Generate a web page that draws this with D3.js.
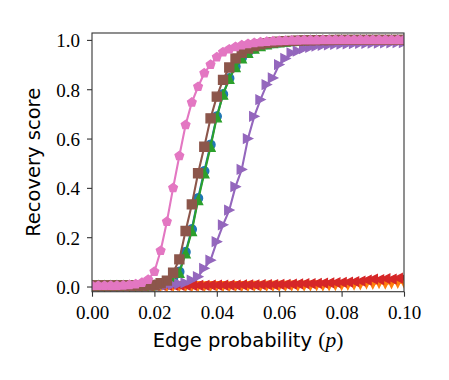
<!DOCTYPE html>
<html>
<head>
<meta charset="utf-8">
<script src="https://cdn.jsdelivr.net/npm/d3@7"></script>
<style>
body { margin: 0; background: #fff; }
</style>
</head>
<body>
<script>
// edge probabilities (x grid)
var pValues = [0, 0.002, 0.004, 0.006, 0.008, 0.010, 0.012, 0.014, 0.016, 0.018,
    0.020, 0.022, 0.024, 0.026, 0.028, 0.030, 0.032, 0.034, 0.036, 0.038,
    0.040, 0.042, 0.044, 0.046, 0.048, 0.050, 0.052, 0.054, 0.056, 0.058,
    0.060, 0.062, 0.064, 0.066, 0.068, 0.070, 0.072, 0.074, 0.076, 0.078,
    0.080, 0.082, 0.084, 0.086, 0.088, 0.090, 0.092, 0.094, 0.096, 0.098, 0.100];

// recovery scores, one array per series
var blueScores = [0.004, 0.004, 0.004, 0.004, 0.004, 0.004, 0.004, 0.004, 0.004, 0.004,
    0.005, 0.010, 0.019, 0.035, 0.060, 0.140, 0.232, 0.358, 0.468, 0.575,
    0.690, 0.780, 0.845, 0.892, 0.927, 0.950, 0.966, 0.976, 0.983, 0.987,
    0.990, 0.993, 0.995, 0.996, 0.997, 0.998, 0.998, 0.999, 0.999, 0.999,
    1.000, 1.000, 1.000, 1.000, 1.000, 1.000, 1.000, 1.000, 1.000, 1.000, 1.000];
var orangeScores = [0.000, 0.001, 0.000, 0.001, 0.000, 0.001, 0.000, 0.001, 0.000, 0.001,
    0.000, 0.001, 0.000, 0.001, 0.001, 0.000, 0.001, 0.001, 0.000, 0.001,
    0.001, 0.001, 0.000, 0.001, 0.001, 0.001, 0.002, 0.001, 0.002, 0.002,
    0.002, 0.002, 0.003, 0.002, 0.003, 0.003, 0.004, 0.003, 0.004, 0.005,
    0.005, 0.006, 0.007, 0.008, 0.012, 0.010, 0.014, 0.011, 0.013, 0.015, 0.016];
var greenScores = [0.004, 0.004, 0.004, 0.004, 0.004, 0.004, 0.004, 0.004, 0.004, 0.004,
    0.005, 0.010, 0.018, 0.033, 0.056, 0.135, 0.225, 0.351, 0.459, 0.567,
    0.686, 0.778, 0.842, 0.890, 0.925, 0.948, 0.965, 0.975, 0.982, 0.987,
    0.990, 0.993, 0.995, 0.996, 0.997, 0.998, 0.998, 0.999, 0.999, 0.999,
    1.000, 1.000, 1.000, 1.000, 1.000, 1.000, 1.000, 1.000, 1.000, 1.000, 1.000];
var redScores = [0.004, 0.004, 0.004, 0.004, 0.004, 0.004, 0.004, 0.004, 0.004, 0.004,
    0.004, 0.005, 0.005, 0.005, 0.005, 0.005, 0.005, 0.005, 0.005, 0.006,
    0.006, 0.006, 0.006, 0.006, 0.007, 0.007, 0.007, 0.008, 0.008, 0.008,
    0.009, 0.009, 0.010, 0.011, 0.012, 0.012, 0.013, 0.014, 0.015, 0.016,
    0.017, 0.018, 0.020, 0.022, 0.026, 0.030, 0.028, 0.032, 0.030, 0.034, 0.036];
var purpleScores = [0.003, 0.003, 0.003, 0.003, 0.003, 0.003, 0.003, 0.003, 0.003, 0.003,
    0.004, 0.005, 0.006, 0.008, 0.011, 0.015, 0.026, 0.040, 0.074, 0.107,
    0.182, 0.250, 0.310, 0.405, 0.475, 0.600, 0.690, 0.758, 0.819, 0.846,
    0.900, 0.925, 0.947, 0.955, 0.965, 0.970, 0.975, 0.978, 0.980, 0.982,
    0.983, 0.984, 0.985, 0.986, 0.986, 0.987, 0.987, 0.988, 0.988, 0.989, 0.989];
var brownScores = [0.004, 0.004, 0.004, 0.004, 0.004, 0.004, 0.004, 0.004, 0.004, 0.005,
    0.006, 0.013, 0.024, 0.056, 0.110, 0.225, 0.333, 0.459, 0.567, 0.682,
    0.770, 0.838, 0.888, 0.925, 0.948, 0.965, 0.975, 0.982, 0.987, 0.990,
    0.993, 0.995, 0.996, 0.997, 0.998, 0.998, 0.999, 0.999, 0.999, 1.000,
    1.000, 1.000, 1.000, 1.000, 1.000, 1.000, 1.000, 1.000, 1.000, 1.000, 1.000];
var pinkScores = [0.003, 0.003, 0.003, 0.004, 0.004, 0.005, 0.007, 0.010, 0.016, 0.028,
    0.060, 0.145, 0.263, 0.400, 0.530, 0.655, 0.747, 0.810, 0.865, 0.900,
    0.930, 0.950, 0.962, 0.972, 0.979, 0.984, 0.988, 0.991, 0.993, 0.995,
    0.996, 0.997, 0.998, 0.998, 0.999, 0.999, 0.999, 1.000, 1.000, 1.000,
    1.000, 1.000, 1.000, 1.000, 1.000, 1.000, 1.000, 1.000, 1.000, 1.000, 1.000];

var xTicks = [0, 0.02, 0.04, 0.06, 0.08, 0.10];
var yTicks = [0, 0.2, 0.4, 0.6, 0.8, 1.0];

// series in plotting order (later ones drawn on top)
var series = [
    {values: blueScores, color: "#1f77b4", marker: "circle"},
    {values: orangeScores, color: "#ff7f0e", marker: "triDown"},
    {values: greenScores, color: "#2ca02c", marker: "triUp"},
    {values: redScores, color: "#d62728", marker: "triLeft"},
    {values: purpleScores, color: "#9467bd", marker: "triRight"},
    {values: brownScores, color: "#8c564b", marker: "square"},
    {values: pinkScores, color: "#e377c2", marker: "pentagon"}
];

var width = 449, height = 380;
var margin = {top: 33, right: 45, bottom: 88.3, left: 92};
var plotW = width - margin.left - margin.right,
    plotH = height - margin.top - margin.bottom;

var x = d3.scaleLinear().domain([0, 0.1]).range([0, plotW]);
var y = d3.scaleLinear().domain([-0.021, 1.028]).range([plotH, 0]);

var ms = 9; // marker size, px

// marker shapes in the matplotlib style
function markerPath(kind) {
    var h = ms / 2;
    var p = d3.path();
    if (kind === "circle") {
        p.arc(0, 0, h, 0, 2 * Math.PI);
    } else if (kind === "square") {
        p.rect(-h, -h, ms, ms);
    } else if (kind === "pentagon") {
        for (var k = 0; k < 5; k++) {
            var a = -Math.PI / 2 + k * 2 * Math.PI / 5;
            if (k === 0) p.moveTo(h * Math.cos(a), h * Math.sin(a));
            else p.lineTo(h * Math.cos(a), h * Math.sin(a));
        }
    } else {
        // triangle pointing up, rotated for the other directions
        var pts = [[0, -h], [-h, h], [h, h]];
        var rot = {triUp: 0, triDown: 180, triLeft: -90, triRight: 90}[kind];
        var r = rot * Math.PI / 180;
        pts.forEach(function (pt, k) {
            var px = pt[0] * Math.cos(r) - pt[1] * Math.sin(r),
                py = pt[0] * Math.sin(r) + pt[1] * Math.cos(r);
            if (k === 0) p.moveTo(px, py); else p.lineTo(px, py);
        });
    }
    p.closePath();
    return p.toString();
}

var svg = d3.select("body")
    .append("svg")
    .attr("width", width)
    .attr("height", height);

svg.append("defs").append("clipPath")
    .attr("id", "plot-clip")
    .append("rect")
    .attr("width", plotW)
    .attr("height", plotH);

var g = svg.append("g")
    .attr("transform", "translate(" + margin.left + "," + margin.top + ")");

var marks = g.append("g").attr("clip-path", "url(#plot-clip)");

var line = d3.line()
    .x(function (d) { return x(d[0]); })
    .y(function (d) { return y(d[1]); });

series.forEach(function (s) {
    var pts = pValues.map(function (p, i) { return [p, s.values[i]]; });
    var sg = marks.append("g");
    sg.append("path")
        .datum(pts)
        .attr("fill", "none")
        .attr("stroke", s.color)
        .attr("stroke-width", 2.1)
        .attr("stroke-linejoin", "round")
        .attr("d", line);
    var shape = markerPath(s.marker);
    sg.selectAll(".m")
        .data(pts)
        .enter()
        .append("path")
        .attr("class", "m")
        .attr("d", shape)
        .attr("transform", function (d) { return "translate(" + x(d[0]) + "," + y(d[1]) + ")"; })
        .attr("fill", s.color)
        .attr("stroke", s.color)
        .attr("stroke-width", 1.4)
        .attr("stroke-linejoin", "miter");
});

// axes
var tickFont = "'Liberation Serif', 'DejaVu Serif', serif";
var xAxis = g.append("g")
    .attr("transform", "translate(0," + plotH + ")")
    .call(d3.axisBottom(x).tickValues(xTicks).tickSize(5).tickPadding(8.5)
        .tickFormat(d3.format(".2f")));
var yAxis = g.append("g")
    .call(d3.axisLeft(y).tickValues(yTicks).tickSize(5).tickPadding(7)
        .tickFormat(d3.format(".1f")));

[xAxis, yAxis].forEach(function (ax) {
    ax.select(".domain").remove();
    ax.selectAll(".tick line").attr("stroke", "#333").attr("stroke-width", 1.1);
    ax.selectAll(".tick text")
        .attr("fill", "#000")
        .style("font-family", tickFont)
        .style("font-size", "19px");
});
yAxis.selectAll(".tick text").attr("dy", "0.36em");

// frame
g.append("rect")
    .attr("width", plotW)
    .attr("height", plotH)
    .attr("fill", "none")
    .attr("stroke", "#333")
    .attr("stroke-width", 1.1);

// axis labels
var labelFont = "'DejaVu Sans', sans-serif";
var xLabel = svg.append("text")
    .attr("x", margin.left + plotW / 2)
    .attr("y", 347)
    .attr("text-anchor", "middle")
    .style("font-family", labelFont)
    .style("font-size", "19.5px");
xLabel.append("tspan").text("Edge probability ");
xLabel.append("tspan").style("font-family", tickFont).style("font-size", "21.5px").text("(");
xLabel.append("tspan").style("font-family", tickFont).style("font-size", "21.5px").style("font-style", "italic").text("p");
xLabel.append("tspan").style("font-family", tickFont).style("font-size", "21.5px").text(")");

svg.append("text")
    .attr("transform", "translate(40," + (margin.top + plotH / 2) + ") rotate(-90)")
    .attr("text-anchor", "middle")
    .style("font-family", labelFont)
    .style("font-size", "19.5px")
    .text("Recovery score");
</script>
</body>
</html>
